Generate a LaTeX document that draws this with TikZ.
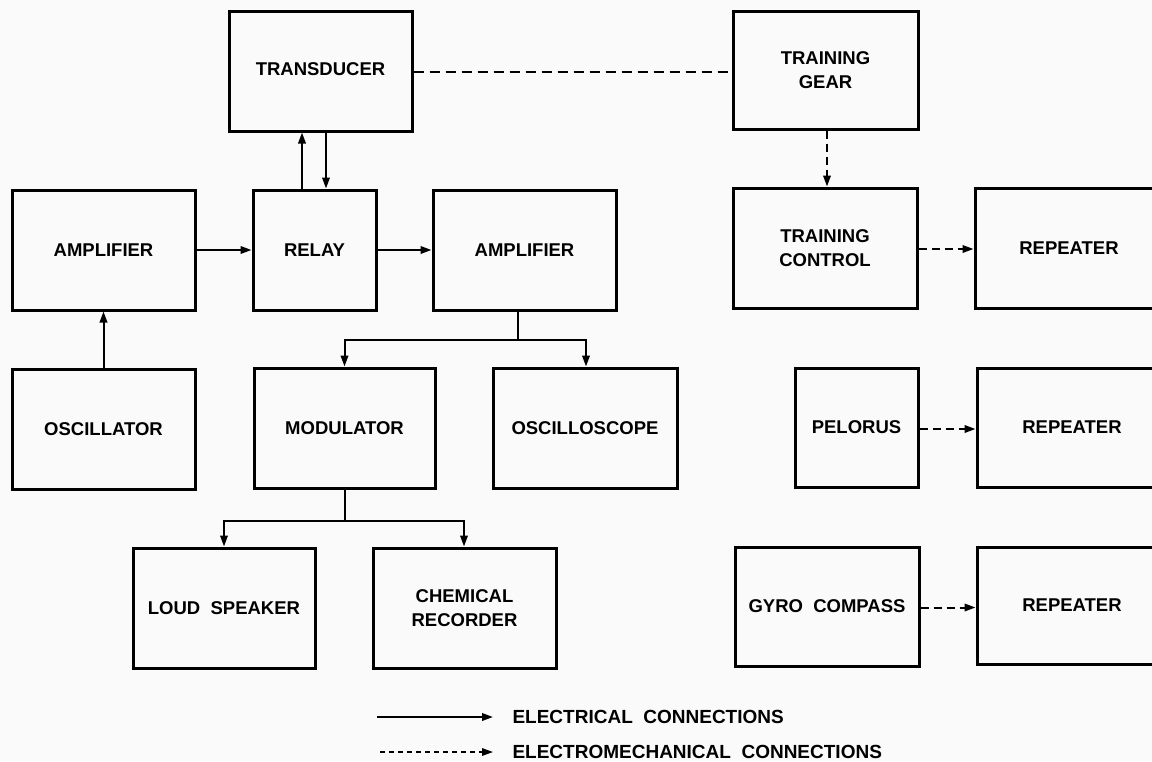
\documentclass[tikz,border=0pt]{standalone}
\usepackage{fontspec}
\setmainfont{Liberation Sans}
\usetikzlibrary{arrows.meta,calc}
\begin{document}
\begin{tikzpicture}[x=1pt,y=-1pt,
  block/.style={draw=black, line width=3pt, rectangle, inner sep=0pt,
    align=center, font=\bfseries\fontsize{18.5}{24.5}\selectfont},
  elec/.style={draw=black, line width=2pt,
    -{Triangle[length=11pt,width=7.5pt]}},
  wire/.style={draw=black, line width=2pt},
  mech/.style={draw=black, line width=2pt, dash pattern=on 8pt off 5pt,
    -{Triangle[length=11pt,width=7.5pt]}},
  mechline/.style={draw=black, line width=2pt, dash pattern=on 10pt off 6pt},
  legtext/.style={anchor=west, font=\bfseries\fontsize{19}{22}\selectfont}]
\useasboundingbox[fill=black!2] (0,0) rectangle (1152,761);
\clip (0,0) rectangle (1152,761);

% blocks
\node[block, minimum width=183pt, minimum height=120pt] (trans) at (320.5,71) {\raisebox{4pt}{TRANSDUCER}};
\node[block, minimum width=185pt, minimum height=118pt] (gear) at (825.5,70) {TRAINING\\GEAR};
\node[block, minimum width=183pt, minimum height=120pt] (ampL) at (103.5,250) {AMPLIFIER};
\node[block, minimum width=123pt, minimum height=120pt] (relay) at (314.5,250) {RELAY};
\node[block, minimum width=183pt, minimum height=120pt] (ampM) at (524.5,250) {AMPLIFIER};
\node[block, minimum width=184pt, minimum height=120pt] (ctrl) at (825,248) {TRAINING\\CONTROL};
\node[block, minimum width=188pt, minimum height=120pt] (rep1) at (1069,248) {REPEATER};
\node[block, minimum width=183pt, minimum height=120pt] (osc) at (103.5,429) {OSCILLATOR};
\node[block, minimum width=181pt, minimum height=120pt] (mod) at (344.5,428) {MODULATOR};
\node[block, minimum width=184pt, minimum height=120pt] (scope) at (585,428) {OSCILLOSCOPE};
\node[block, minimum width=123pt, minimum height=119pt] (pel) at (856.5,427.5) {PELORUS};
\node[block, minimum width=190pt, minimum height=119pt] (rep2) at (1072,427.5) {REPEATER};
\node[block, minimum width=182pt, minimum height=120pt] (spk) at (224,608) {LOUD\ \ SPEAKER};
\node[block, minimum width=183pt, minimum height=120pt] (chem) at (464.5,608) {CHEMICAL\\RECORDER};
\node[block, minimum width=184pt, minimum height=119pt] (gyro) at (827,606.5) {GYRO\ \ COMPASS};
\node[block, minimum width=190pt, minimum height=117pt] (rep3) at (1072,605.5) {REPEATER};

% electrical connections
\draw[elec] ([xshift=-12.5pt]relay.north) -- ([xshift=-12.5pt]relay.north |- trans.south);
\draw[elec] ([xshift=5.5pt]trans.south) -- ([xshift=5.5pt]trans.south |- relay.north);
\draw[elec] (ampL.east) -- (relay.west);
\draw[elec] (relay.east) -- (ampM.west);
\draw[elec] (osc.north) -- (ampL.south);

\coordinate (ampMbr) at ($([xshift=-6.5pt]ampM.south)+(0,28)$);
\draw[wire] ([xshift=-6.5pt]ampM.south) -- (ampMbr);
\draw[elec] (ampMbr) -| (mod.north);
\draw[elec] (ampMbr) -| ([xshift=1pt]scope.north);

\coordinate (modbr) at ($(mod.south)+(0,31)$);
\draw[wire] (mod.south) -- (modbr);
\draw[elec] (modbr) -| (spk.north);
\draw[elec] (modbr) -| ([xshift=-0.5pt]chem.north);

% electromechanical connections
\draw[mechline] ([yshift=-1pt]trans.east) -- ([yshift=-1pt]trans.east -| gear.west);
\draw[mech] ([xshift=1.5pt]gear.south) -- ([xshift=1.5pt]gear.south |- ctrl.north);
\draw[mech] ([yshift=-1pt]ctrl.east) -- ([yshift=-1pt]ctrl.east -| rep1.west);
\draw[mech] ([yshift=-1.5pt]pel.east) -- ([yshift=-1.5pt]pel.east -| rep2.west);
\draw[mech] ([yshift=-1pt]gyro.east) -- ([yshift=-1pt]gyro.east -| rep3.west);

% legend
\coordinate (l1a) at (377,717);
\coordinate (l1b) at (493,717);
\coordinate (l2a) at (380,752);
\coordinate (l2b) at (493,752);
\draw[elec] (l1a) -- (l1b);
\draw[mech, line width=1.5pt, dash pattern=on 5pt off 4pt] (l2a) -- (l2b);
\node[legtext] (leg1) at (509,717) {ELECTRICAL\ \ CONNECTIONS};
\node[legtext] (leg2) at (509,752) {ELECTROMECHANICAL\ \ CONNECTIONS};
\end{tikzpicture}
\end{document}
